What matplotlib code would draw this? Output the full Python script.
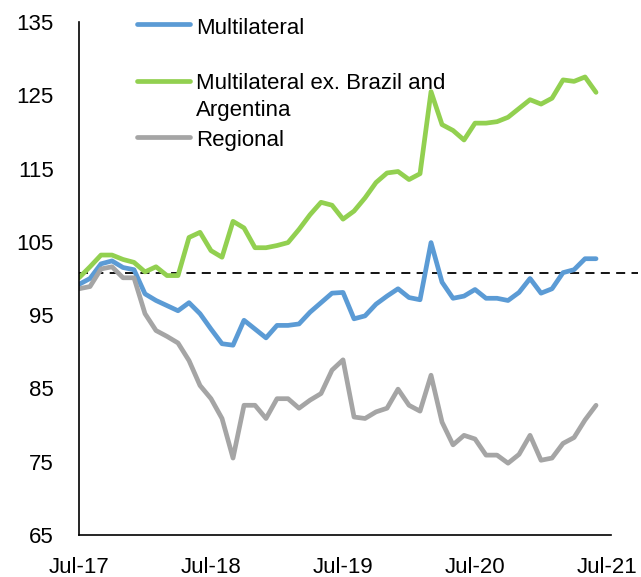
import numpy as np
import matplotlib.pyplot as plt
from matplotlib.lines import Line2D

plt.rcParams['font.family'] = ['Liberation Sans', 'DejaVu Sans']

# monthly series, Jul-17 ... Jun-21 (index, Jul-17 = 100 area)
multilateral = [99.2, 100.0, 102.0, 102.4, 101.5, 101.2, 97.9, 97.0, 96.3, 95.6,
                96.7, 95.2, 93.1, 91.1, 90.9, 94.3, 93.1, 91.9, 93.6, 93.6,
                93.8, 95.4, 96.7, 98.0, 98.1, 94.5, 94.9, 96.5, 97.6, 98.6,
                97.4, 97.1, 104.9, 99.5, 97.3, 97.6, 98.5, 97.3, 97.3, 97.0,
                98.1, 100.0, 98.0, 98.6, 100.8, 101.2, 102.7, 102.7]
multi_ex_br_ar = [100.1, 101.6, 103.2, 103.2, 102.6, 102.2, 100.9, 101.6, 100.4, 100.4,
                  105.6, 106.3, 103.8, 102.9, 107.8, 106.9, 104.2, 104.2, 104.5, 104.9,
                  106.7, 108.7, 110.4, 110.0, 108.1, 109.2, 111.0, 113.1, 114.4, 114.6,
                  113.5, 114.3, 125.5, 121.0, 120.2, 118.9, 121.2, 121.2, 121.4, 122.0,
                  123.2, 124.4, 123.8, 124.6, 127.1, 126.9, 127.5, 125.4]
regional = [98.6, 98.9, 101.3, 101.6, 100.1, 100.1, 95.2, 92.9, 92.1, 91.2,
            88.8, 85.4, 83.6, 80.9, 75.5, 82.7, 82.7, 80.9, 83.6, 83.6,
            82.3, 83.4, 84.3, 87.5, 88.9, 81.1, 80.9, 81.8, 82.3, 84.9,
            82.7, 81.9, 86.8, 80.4, 77.3, 78.6, 78.1, 75.9, 75.9, 74.8,
            76.0, 78.6, 75.2, 75.5, 77.5, 78.3, 80.7, 82.7]
ref_level = 100.8

tick_pos = [0, 12, 24, 36, 48]
tick_labels = ['Jul-17', 'Jul-18', 'Jul-19', 'Jul-20', 'Jul-21']
y_ticks = [65, 75, 85, 95, 105, 115, 125, 135]

names = ['Multilateral', 'Multilateral ex. Brazil and\nArgentina', 'Regional']
colors = ['#5B9BD5', '#92D050', '#A5A5A5']

fig = plt.figure(figsize=(6.41, 5.77), dpi=100)
ax = fig.add_axes([79 / 641, 42 / 577, 532 / 641, 513 / 577])

x = np.arange(len(multilateral))
series = [multilateral, multi_ex_br_ar, regional]
for vals, c in zip(series, colors):
    ax.plot(x, vals, color=c, lw=3.4, solid_joinstyle='round', solid_capstyle='round')

# dashed reference line, runs a bit past the axis end
ax.plot([0, 50.8], [ref_level, ref_level], color='black', lw=1.3,
        dashes=(5, 3.5), clip_on=False, zorder=1)

ax.set_xlim(0, 48.36)
ax.set_ylim(65, 135)
ax.set_xticks(tick_pos)
ax.set_xticklabels(tick_labels)
ax.set_yticks(y_ticks)
ax.tick_params(axis='both', length=0, labelsize=16)
ax.tick_params(axis='y', pad=18)
ax.tick_params(axis='x', pad=16)
for s in ['top', 'right']:
    ax.spines[s].set_visible(False)
for s in ['left', 'bottom']:
    ax.spines[s].set_linewidth(1.2)

# legend drawn by hand to match the layout (pixel rows from the top)
leg_rows = [24, 81, 137]
text_rows = [28, 73, 141]
for name, c, yy, ty in zip(names, colors, leg_rows, text_rows):
    fig.add_artist(Line2D([137 / 641, 190 / 641], [1 - yy / 577, 1 - yy / 577],
                          color=c, lw=3.4, solid_capstyle='round'))
    fig.text(196 / 641, 1 - ty / 577, name, fontsize=16,
             va='top' if '\n' in name else 'center', linespacing=1.35)

fig.savefig('out.png', dpi=100)
